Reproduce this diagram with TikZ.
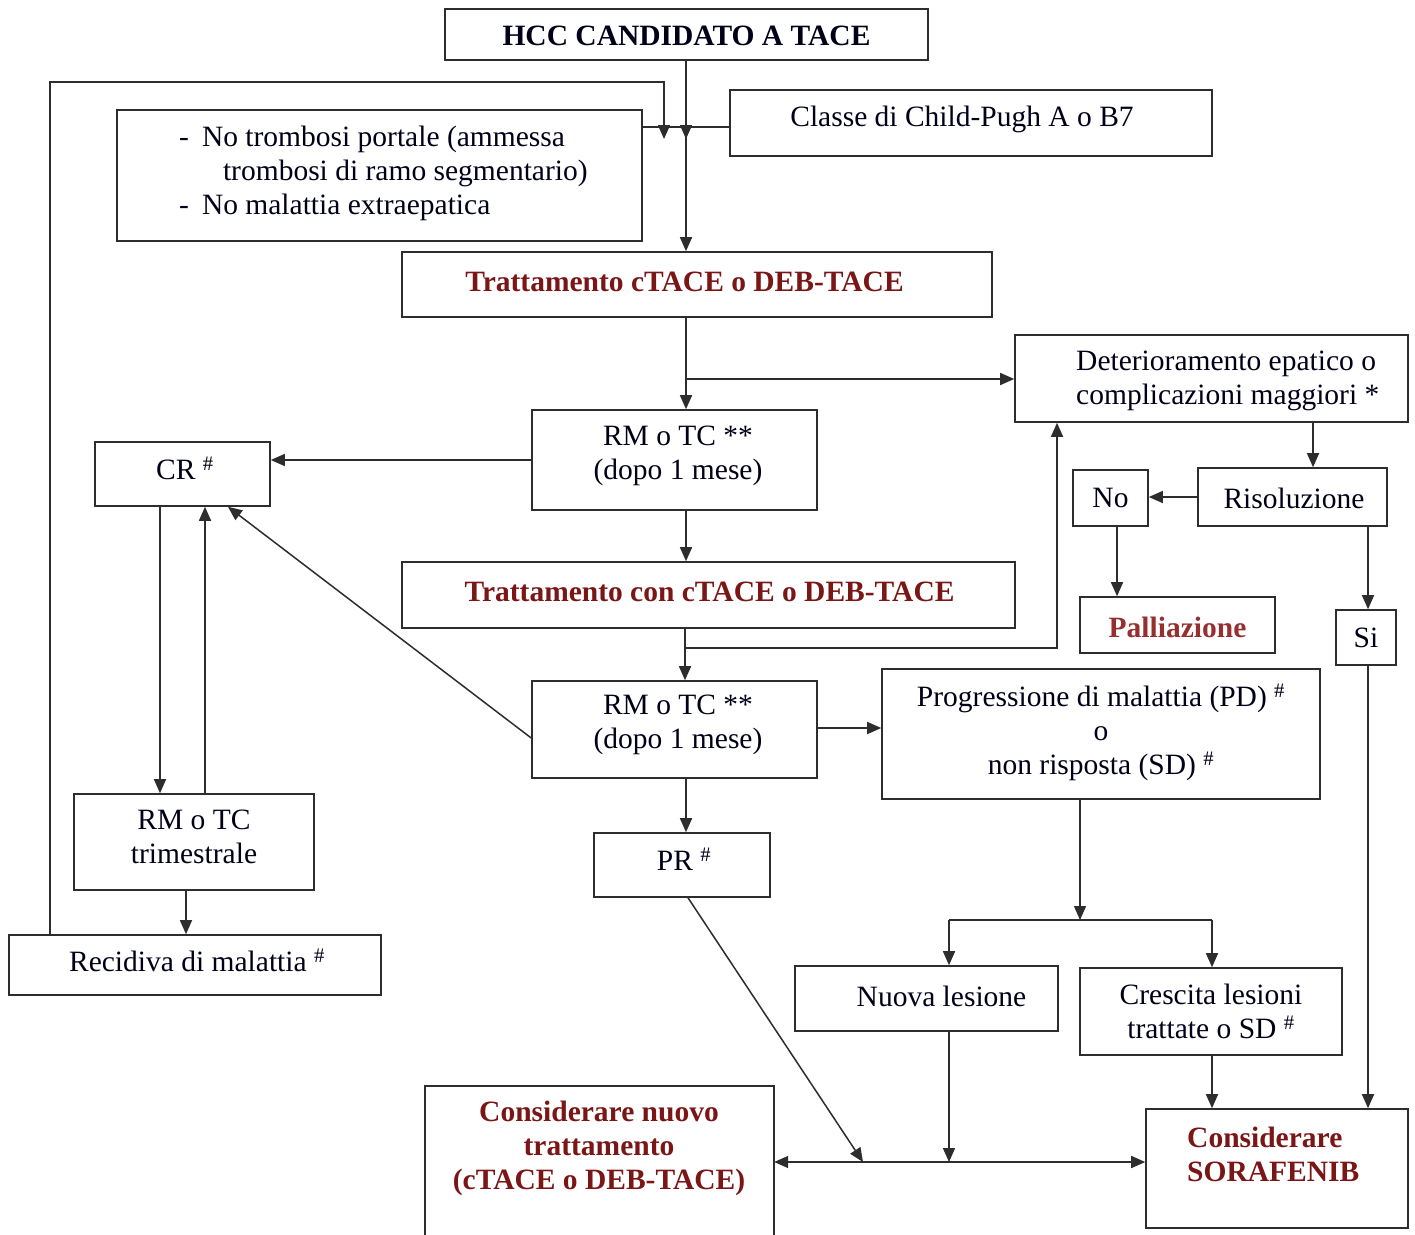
\documentclass[tikz,border=0pt]{standalone}
\usepackage{fontspec}
\setmainfont{Liberation Serif}
\usetikzlibrary{arrows.meta}
\definecolor{dred}{RGB}{122,22,22}
\definecolor{pred}{RGB}{150,48,48}
\definecolor{lin}{RGB}{45,45,45}
\begin{document}
\begin{tikzpicture}[x=1pt,y=-1pt,
  bx/.style={draw=lin,line width=1.6pt,inner sep=0pt},
  tx/.style={inner sep=0pt,font=\fontsize{29.5}{34}\selectfont,text=black!90!blue},
  rt/.style={tx,font=\fontsize{29.5}{34}\selectfont\bfseries,text=dred},
  arr/.style={draw=lin,line width=1.5pt,-{Triangle[length=14pt,width=12pt]}},
  ln/.style={draw=lin,line width=1.5pt}]
\useasboundingbox (0,0) rectangle (1415,1234);
\fill[white] (0,0) rectangle (1415,1234);
% boxes
\node[bx,minimum width=483pt,minimum height=51pt] (hcc) at (686.5,34.5) {};
\node[tx,font=\fontsize{29.5}{34}\selectfont\bfseries] (hcct) at (686.5,36) {HCC CANDIDATO A TACE};
\node[bx,minimum width=525pt,minimum height=131pt] (crit) at (379.5,175.5) {};
\node[tx,anchor=west] (critt) at (179,174) {\begin{tabular}{@{}l@{\hspace{13pt}}l@{}}-&No trombosi portale (ammessa\\&\hspace{21pt}trombosi di ramo segmentario)\\-&No malattia extraepatica\end{tabular}};
\node[bx,minimum width=482pt,minimum height=66pt] (cp) at (971,123) {};
\node[tx] (cpt) at (962,119) {Classe di Child-Pugh A o B7};
\node[bx,minimum width=590pt,minimum height=65pt] (t1) at (697,284.5) {};
\node[rt] (t1t) at (684.5,282) {Trattamento cTACE o DEB-TACE};
\node[bx,minimum width=393pt,minimum height=87pt] (det) at (1211.5,378.5) {};
\node[tx,align=left,anchor=west] (dett) at (1076,380.5) {Deterioramento epatico o\\complicazioni maggiori *};
\node[bx,minimum width=285pt,minimum height=100pt] (rm1) at (674.5,460) {};
\node[tx,align=center] (rm1t) at (678,456) {RM o TC **\\(dopo 1 mese)};
\node[bx,minimum width=175pt,minimum height=64pt] (cr) at (182.5,474) {};
\node[tx] (crt) at (185,468) {CR \textsuperscript{\#}};
\node[bx,minimum width=189pt,minimum height=58pt] (ris) at (1292.5,497) {};
\node[tx] (rist) at (1294,498) {Risoluzione};
\node[bx,minimum width=75pt,minimum height=56pt] (no) at (1110.5,498) {};
\node[tx] (not) at (1110.5,498) {No};
\node[bx,minimum width=613pt,minimum height=66pt] (t2) at (708.5,595) {};
\node[rt] (t2t) at (709.5,592) {Trattamento con cTACE o DEB-TACE};
\node[bx,minimum width=195pt,minimum height=56pt] (pal) at (1177.5,625) {};
\node[rt,text=pred] (palt) at (1177.5,627) {Palliazione};
\node[bx,minimum width=60pt,minimum height=55pt] (si) at (1366,637.5) {};
\node[tx] (sit) at (1366,638) {Si};
\node[bx,minimum width=285pt,minimum height=97pt] (rm2) at (674.5,729.5) {};
\node[tx,align=center] (rm2t) at (678,725) {RM o TC **\\(dopo 1 mese)};
\node[bx,minimum width=438pt,minimum height=130pt] (pd) at (1101,734) {};
\node[tx,align=center] (pdt) at (1101,732) {Progressione di malattia (PD) \textsuperscript{\#}\\o\\non risposta (SD) \textsuperscript{\#}};
\node[bx,minimum width=240pt,minimum height=96pt] (rmt) at (194,842) {};
\node[tx,align=center] (rmtt) at (194,837) {RM o TC\\trimestrale};
\node[bx,minimum width=176pt,minimum height=64pt] (pr) at (682,865) {};
\node[tx] (prt) at (684,859) {PR \textsuperscript{\#}};
\node[bx,minimum width=372pt,minimum height=60pt] (rec) at (195,965) {};
\node[tx] (rect) at (197,960) {Recidiva di malattia \textsuperscript{\#}};
\node[bx,minimum width=263pt,minimum height=65pt] (nuo) at (926.5,998.5) {};
\node[tx] (nuot) at (941.5,996) {Nuova lesione};
\node[bx,minimum width=262pt,minimum height=87pt] (cre) at (1211,1011.5) {};
\node[tx,align=center] (cret) at (1211,1011) {Crescita lesioni\\trattate o SD \textsuperscript{\#}};
\node[inner sep=0pt,minimum width=349pt,minimum height=164pt] (cnt) at (599.5,1168) {};
\draw[ln] (cnt.south west) -- (cnt.north west) -- (cnt.north east) -- (cnt.south east);
\node[rt,align=center] (cntt) at (599,1148.5) {Considerare nuovo\\trattamento\\(cTACE o DEB-TACE)};
\node[bx,minimum width=262pt,minimum height=119pt] (sor) at (1277,1168.5) {};
\node[rt,align=left,anchor=west] (sort) at (1187,1154) {Considerare\\SORAFENIB};
% connectors
\draw[ln] (crit.east |- 0,127) -- (cp.west |- 0,127);
\draw[arr] (hcc.south -| 686,0) -- (686,139);
\draw[arr] (hcc.south -| 686,0) -- (t1.north -| 686,0);
\draw[arr] (rec.north -| 50,0) -- (50,82) -- (664,82) -- (664,139);
\draw[arr] (t1.south -| 686,0) -- (rm1.north -| 686,0);
\coordinate (b1) at (686,379);
\draw[arr] (b1) -- (det.west |- b1);
\draw[arr] (rm1.west) -- (cr.east |- rm1.west);
\draw[arr] (rm1.south -| 686,0) -- (t2.north -| 686,0);
\draw[arr] (t2.south -| 685,0) -- (rm2.north -| 685,0);
\draw[arr] (685,648) -- (1057,648) -- (det.south -| 1057,0);
\draw[arr] (rm2.west |- 0,738) -- (cr.south -| 228,0);
\draw[arr] (rm2.east |- 0,728) -- (pd.west |- 0,728);
\draw[arr] (rm2.south -| 686,0) -- (pr.north -| 686,0);
\draw[arr] (det.south -| 1313,0) -- (ris.north -| 1313,0);
\draw[arr] (ris.west) -- (no.east |- ris.west);
\draw[arr] (no.south -| 1117,0) -- (pal.north -| 1117,0);
\draw[arr] (ris.south -| 1368,0) -- (si.north -| 1368,0);
\draw[arr] (si.south -| 1368,0) -- (sor.north -| 1368,0);
\draw[arr] (cr.south -| 160,0) -- (rmt.north -| 160,0);
\draw[arr] (rmt.north -| 205,0) -- (cr.south -| 205,0);
\draw[arr] (rmt.south -| 186,0) -- (rec.north -| 186,0);
\draw[arr] (pd.south -| 1080,0) -- (1080,920);
\draw[ln] (949,920) -- (1212,920);
\draw[arr] (949,920) -- (nuo.north -| 949,0);
\draw[arr] (1212,920) -- (cre.north -| 1212,0);
\coordinate (hb) at (949,1162);
\draw[arr] (nuo.south -| 949,0) -- (hb);
\draw[arr] (cre.south -| 1212,0) -- (sor.north -| 1212,0);
\draw[arr] (pr.south -| 688,0) -- (863,1162);
\draw[draw=lin,line width=1.5pt,{Triangle[length=14pt,width=12pt]}-{Triangle[length=14pt,width=12pt]}] (cnt.east |- 0,1162) -- (sor.west |- 0,1162);
\end{tikzpicture}
\end{document}
